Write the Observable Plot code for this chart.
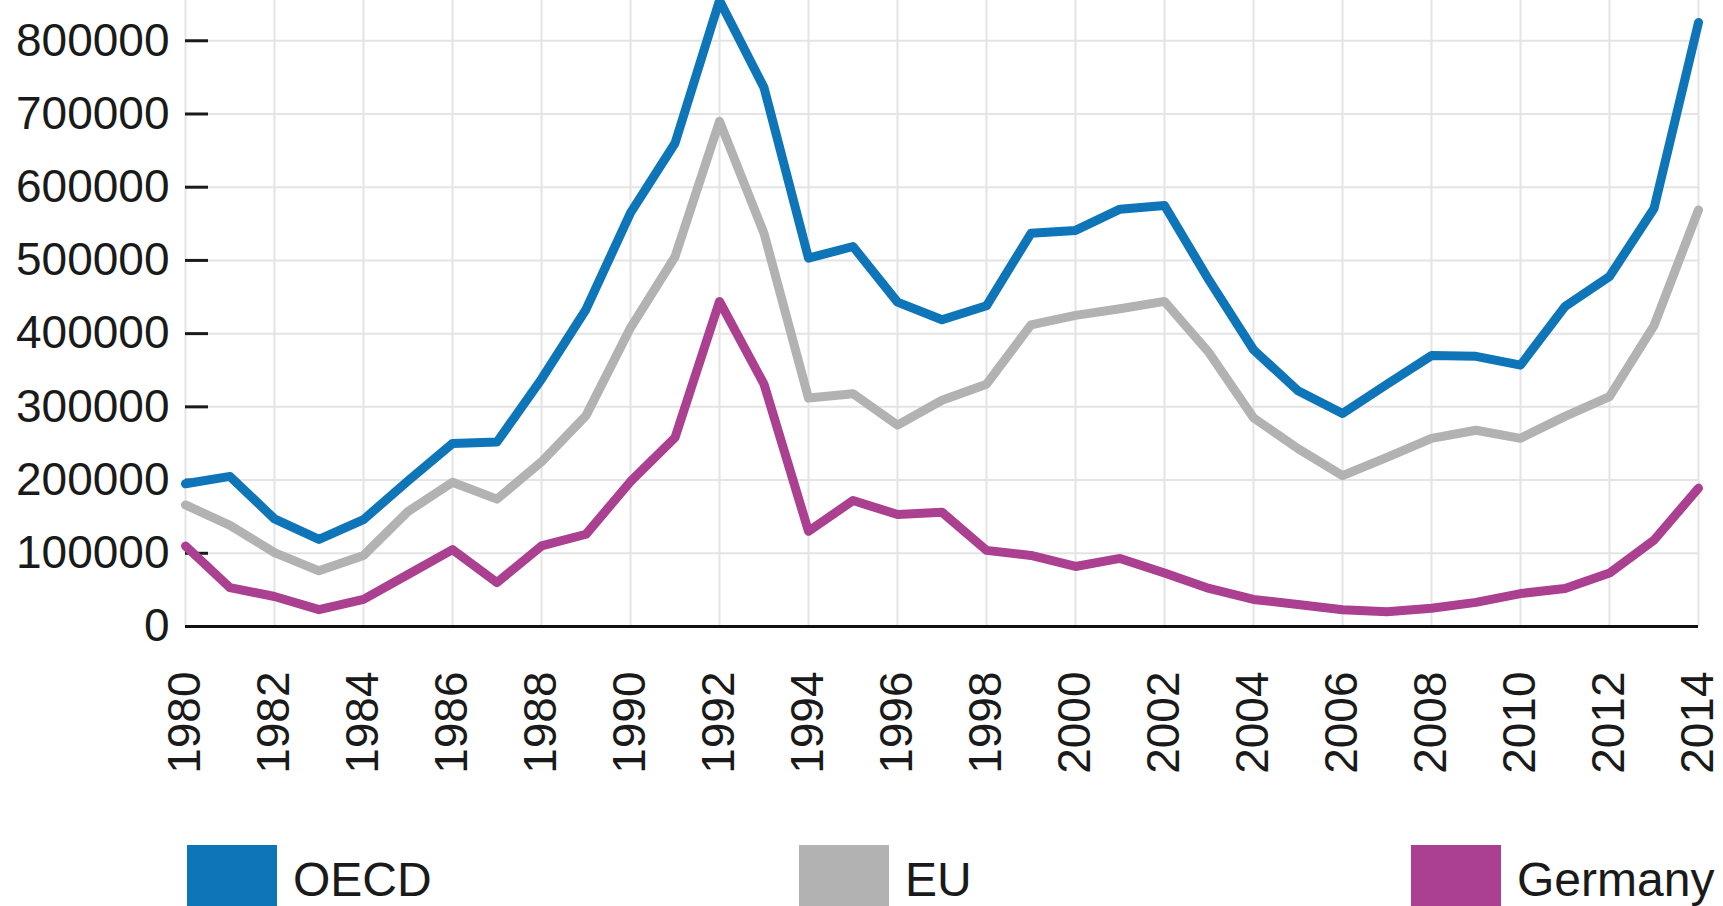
<!DOCTYPE html>
<html>
<head>
<meta charset="utf-8">
<script src="https://cdn.jsdelivr.net/npm/d3@7"></script>
<script src="https://cdn.jsdelivr.net/npm/@observablehq/plot@0.6"></script>
<style>
html, body { margin: 0; padding: 0; background: #fff; overflow: hidden; width: 1723px; height: 906px; }
#chart { position: absolute; left: 0; top: 0; }
#legend { position: absolute; left: 187px; top: 845px; display: flex; font-family: "Liberation Sans", Arial, sans-serif; font-size: 48px; color: #1a1a1a; }
#legend .item { width: 612px; display: flex; align-items: flex-start; }
#legend .sw { width: 90px; height: 80px; flex: none; }
#legend .lab { margin-left: 16px; line-height: 1; padding-top: 11px; white-space: nowrap; }
</style>
</head>
<body>
<div id="chart"></div>
<div id="legend"></div>
<script>
const years = [1980, 1981, 1982, 1983, 1984, 1985, 1986, 1987, 1988, 1989,
  1990, 1991, 1992, 1993, 1994, 1995, 1996, 1997, 1998, 1999,
  2000, 2001, 2002, 2003, 2004, 2005, 2006, 2007, 2008, 2009,
  2010, 2011, 2012, 2013, 2014];

const oecd = [195000, 205000, 147000, 119000, 146000, 199000, 250000, 252000, 338000, 433000,
  565000, 660000, 855000, 736000, 503000, 519000, 443000, 419000, 438000, 537000,
  541000, 570000, 575000, 473000, 378000, 322000, 291000, 331000, 370000, 369000,
  357000, 437000, 478000, 571000, 825000];

const eu = [166000, 138000, 101000, 76000, 97000, 157000, 197000, 174000, 225000, 288000,
  408000, 505000, 690000, 537000, 312000, 318000, 275000, 309000, 331000, 412000,
  425000, 434000, 444000, 374000, 285000, 243000, 206000, 231000, 257000, 268000,
  257000, 287000, 314000, 411000, 569000];

const germany = [110000, 53000, 41000, 23000, 37000, 71000, 105000, 60000, 110000, 126000,
  198000, 258000, 444000, 331000, 130000, 172000, 153000, 156000, 104000, 97000,
  82000, 93000, 73000, 52000, 37000, 30000, 23000, 20000, 25000, 33000,
  45000, 52000, 73000, 118000, 189000];

const seriesNames = ["OECD", "EU", "Germany"];
const seriesColors = ["#0e75b8", "#b2b2b2", "#ab3f90"];
const xTickValues = [1980, 1982, 1984, 1986, 1988, 1990, 1992, 1994, 1996, 1998, 2000, 2002, 2004, 2006, 2008, 2010, 2012, 2014];
const yTickValues = [0, 100000, 200000, 300000, 400000, 500000, 600000, 700000, 800000];

const seriesValues = [oecd, eu, germany];
const rows = [];
seriesNames.forEach((name, i) => {
  years.forEach((yr, j) => rows.push({series: name, year: yr, value: seriesValues[i][j]}));
});

const font = '"Liberation Sans", Arial, sans-serif';

const chart = Plot.plot({
  width: 1723,
  height: 800,
  marginLeft: 185,
  marginRight: 25,
  marginTop: 0,
  marginBottom: 174,
  x: {domain: [1980, 2014], label: null},
  y: {domain: [0, 855000], label: null},
  color: {domain: seriesNames, range: seriesColors},
  style: {fontFamily: font, fontSize: "46px", color: "#1a1a1a", background: "transparent"},
  marks: [
    Plot.ruleX(xTickValues, {stroke: "#e4e4e4", strokeWidth: 2}),
    Plot.ruleY(yTickValues, {stroke: "#e4e4e4", strokeWidth: 2}),
    Plot.axisY(yTickValues, {tickSize: 0, tickPadding: 16, tickFormat: d3.format("d"), fontSize: 46, fill: "#1a1a1a", label: null}),
    Plot.axisY(yTickValues.slice(1), {tickSize: -23, tickFormat: () => "", stroke: "#1a1a1a", strokeWidth: 3, label: null}),
    Plot.axisX(xTickValues, {tickSize: 0, tickPadding: 45, tickRotate: -90, tickFormat: d3.format("d"), fontSize: 46, fill: "#1a1a1a", label: null}),
    Plot.line(rows, {x: "year", y: "value", z: "series", stroke: "series", strokeWidth: 9}),
    Plot.ruleY([0], {stroke: "#111", strokeWidth: 3})
  ]
});
document.getElementById("chart").appendChild(chart);

const legend = d3.select("#legend");
seriesNames.forEach((name, i) => {
  const item = legend.append("div").attr("class", "item");
  item.append("div").attr("class", "sw").style("background", seriesColors[i]);
  item.append("div").attr("class", "lab").text(name);
});
</script>
</body>
</html>
